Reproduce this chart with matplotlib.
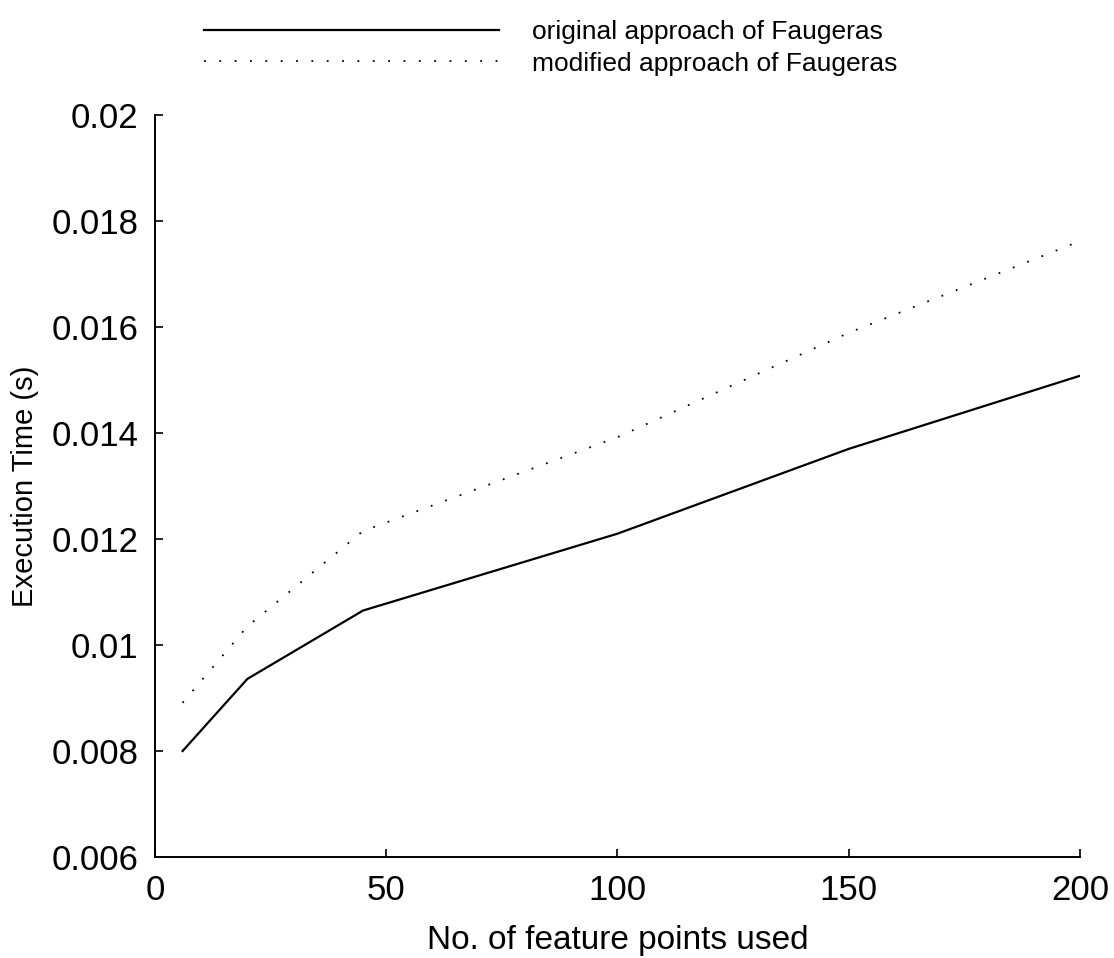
import matplotlib
matplotlib.use("Agg")
import matplotlib.pyplot as plt

plt.rcParams['font.family'] = ['Liberation Sans', 'DejaVu Sans']

# execution time against number of feature points
n_points = [6, 20, 45, 100, 150, 200]
t_original = [0.0080, 0.00936, 0.01065, 0.0121, 0.0137, 0.01508]
t_modified = [0.00891, 0.01035, 0.01215, 0.01392, 0.01589, 0.01762]

x_ticks = [0, 50, 100, 150, 200]
y_ticks = [0.006, 0.008, 0.01, 0.012, 0.014, 0.016, 0.018, 0.02]
y_tick_labels = ['0.006', '0.008', '0.01', '0.012', '0.014', '0.016', '0.018', '0.02']

fig = plt.figure(figsize=(11.14, 9.58), dpi=100)
ax = fig.add_axes([0.139, 0.1054, 0.8305, 0.7746])

ax.plot(n_points, t_original, color='black', linewidth=1.6,
        label='original approach of Faugeras')
ax.plot(n_points, t_modified, color='black', linewidth=1.3,
        linestyle=(0, (1, 7.5)), label='modified approach of Faugeras')

ax.set_xlim(0, 200)
ax.set_ylim(0.006, 0.02)
ax.set_xticks(x_ticks)
ax.set_yticks(y_ticks)
ax.set_yticklabels(y_tick_labels)

ax.spines['top'].set_visible(False)
ax.spines['right'].set_visible(False)
for s in ('left', 'bottom'):
    ax.spines[s].set_linewidth(1.4)
ax.tick_params(direction='in', length=6, width=1.2, labelsize=25, pad=12)

ax.set_xlabel('No. of feature points used', fontsize=24)
ax.set_ylabel('Execution Time (s)', fontsize=21)
ax.xaxis.set_label_coords(0.5, -0.092)
ax.yaxis.set_label_coords(-0.1254, 0.5)

fig.legend(loc='upper left', bbox_to_anchor=(0.183, 0.979), frameon=False,
           fontsize=19, handlelength=11.2, handletextpad=1.25,
           labelspacing=0.28, borderpad=0, borderaxespad=0)

fig.savefig('out.png', dpi=100)
